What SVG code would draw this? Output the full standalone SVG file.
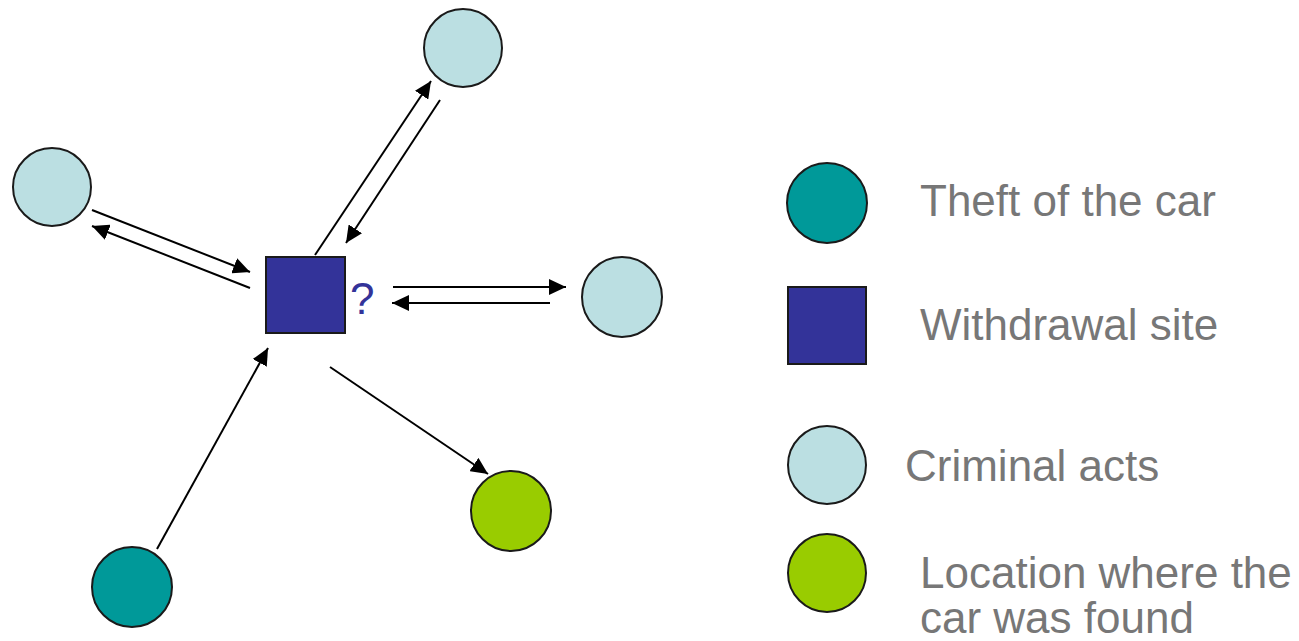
<svg xmlns="http://www.w3.org/2000/svg" width="1299" height="641" viewBox="0 0 1299 641">
<defs>
<style>
.c{stroke:#1a1a1a;stroke-width:2}
.theft{fill:#009999}
.crime{fill:#BBDFE2}
.found{fill:#99CC00}
.site{fill:#333399;stroke:#1a1a1a;stroke-width:2}
.ln{stroke:#000;stroke-width:2;fill:none;marker-end:url(#ah)}
.lg{font-family:"Liberation Sans",Arial,sans-serif;font-size:44px;fill:#777}
</style>
<marker id="ah" viewBox="0 0 17 16" refX="17" refY="8" markerWidth="17" markerHeight="16" markerUnits="userSpaceOnUse" orient="auto"><path d="M0,0 L17,8 L0,16 z" fill="#000"/></marker>
</defs>
<rect width="1299" height="641" fill="#fff"/>
<g id="connectors">
<line class="ln" x1="92" y1="210" x2="250" y2="272"/>
<line class="ln" x1="250" y1="288" x2="92" y2="226"/>
<line class="ln" x1="315" y1="255" x2="431" y2="81"/>
<line class="ln" x1="440" y1="100" x2="346" y2="243"/>
<line class="ln" x1="393" y1="287" x2="566" y2="287"/>
<line class="ln" x1="550" y1="303" x2="392" y2="303"/>
<line class="ln" x1="157" y1="549" x2="268" y2="348"/>
<line class="ln" x1="330" y1="367" x2="488" y2="474"/>
</g>
<g id="crime-top"><circle class="c crime" cx="463" cy="48" r="39"/></g>
<g id="crime-left"><circle class="c crime" cx="52" cy="187" r="39"/></g>
<g id="crime-right"><circle class="c crime" cx="622" cy="297" r="40"/></g>
<g id="theft"><circle class="c theft" cx="132" cy="587" r="40"/></g>
<g id="found"><circle class="c found" cx="511" cy="511" r="40"/></g>
<g id="site"><rect class="site" x="266" y="257" width="79" height="76"/>
<text x="350" y="314" font-family="'Liberation Sans',Arial,sans-serif" font-size="44" fill="#333399">?</text></g>
<g id="legend">
<g id="lg-theft"><circle class="c theft" cx="827" cy="203" r="40"/><text class="lg" x="920" y="216">Theft of the car</text></g>
<g id="lg-site"><rect class="site" x="788" y="287" width="78" height="77"/><text class="lg" x="920" y="340">Withdrawal site</text></g>
<g id="lg-crime"><circle class="c crime" cx="827" cy="465" r="39"/><text class="lg" x="905" y="481">Criminal acts</text></g>
<g id="lg-found"><circle class="c found" cx="827" cy="573" r="39"/><text class="lg" x="920" y="588">Location where the</text><text class="lg" x="920" y="633">car was found</text></g>
</g>
</svg>
